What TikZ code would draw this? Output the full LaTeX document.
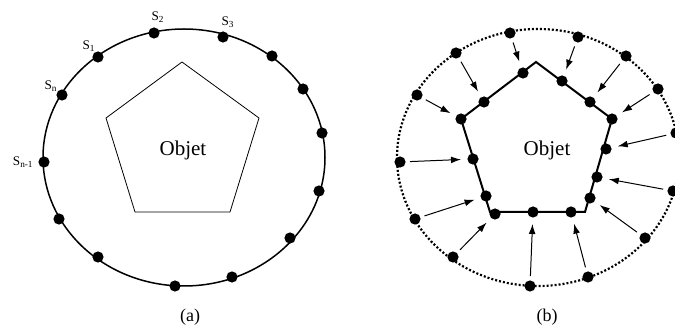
\documentclass[tikz,border=0pt]{standalone}
\usepackage{fontspec}
\setmainfont{Liberation Serif}
\usetikzlibrary{arrows.meta}

\begin{document}
\begin{tikzpicture}[
	x=0.5pt, y=-0.5pt,
	every node/.style={font=\fontsize{10.5}{12}\selectfont},
	sensor/.style={
		circle, fill=black, inner sep=0pt, minimum size=5.6pt
	},
	s_label/.style={font=\fontsize{6.6}{7}\selectfont, inner sep=0pt},
	caption/.style={font=\fontsize{9}{10}\selectfont},
	contour/.style={line width=0.75pt},
	dotted_contour/.style={line width=1.1pt, dash pattern=on 1pt off 1pt},
	push_arrow/.style={
		-{Latex[length=5pt,width=3.4pt]}, line width=0.5pt,
		shorten <=2pt, shorten >=3pt
	}
	]
	\useasboundingbox (0,0) rectangle (675,331);
	
	% --- 1. FIGURE (a) ---
	\draw[contour] (184,157.5) ellipse [x radius=70.5pt, y radius=64.25pt];
	\draw[line width=0.4pt] (182,62) -- (259,118) -- (230,212) -- (135,212) -- (106,118) -- cycle;
	\node (O_Left) at (183,150) {Objet};
	
	\node[sensor] (S1) at (98,57) {};
	\node[sensor] (S2) at (154,33) {};
	\node[sensor] (S3) at (223,37) {};
	\node[sensor] (S4) at (272,56) {};
	\node[sensor] (S5) at (303,89) {};
	\node[sensor] (S6) at (322,133) {};
	\node[sensor] (S7) at (319,191) {};
	\node[sensor] (S8) at (290,238) {};
	\node[sensor] (S9) at (232,277) {};
	\node[sensor] (S10) at (175,286) {};
	\node[sensor] (S11) at (98,257) {};
	\node[sensor] (S12) at (59,219) {};
	\node[sensor] (S13) at (44,162) {};
	\node[sensor] (S14) at (62,95) {};
	
	% Nhãn
	\node[s_label] (L1) at (89,46) {S\textsubscript{1}};
	\node[s_label] (L2) at (158,17) {S\textsubscript{2}};
	\node[s_label] (L3) at (228,22) {S\textsubscript{3}};
	\node[s_label] (Ln) at (51,86) {S\textsubscript{n}};
	\node[s_label, anchor=east] (Lm) at (34,162) {S\textsubscript{n-1}};
	
	\node[caption] (Cap_A) at (190,317) {(a)};
	
	% --- 2. FIGURE (b) ---
	\draw[dotted_contour] (538,157.5) ellipse [x radius=70.5pt, y radius=64.25pt];
	\draw[line width=1pt] (536,62) -- (612,119) -- (585,212) -- (490,212) -- (461,119) -- cycle;
	\node (O_Right) at (547,150) {Objet};
	
	% Điểm trên đường ngoài
	\node[sensor] (E1) at (456,53) {};
	\node[sensor] (E2) at (510,33) {};
	\node[sensor] (E3) at (578,37) {};
	\node[sensor] (E4) at (626,56) {};
	\node[sensor] (E5) at (658,89) {};
	\node[sensor] (E6) at (676,133) {};
	\node[sensor] (E7) at (673,191) {};
	\node[sensor] (E8) at (645,238) {};
	\node[sensor] (E9) at (588,277) {};
	\node[sensor] (E10) at (530,286) {};
	\node[sensor] (E11) at (453,257) {};
	\node[sensor] (E12) at (415,219) {};
	\node[sensor] (E13) at (400,162) {};
	\node[sensor] (E14) at (417,95) {};
	
	% Điểm trên đa giác
	\node[sensor] (P1) at (484,102) {};
	\node[sensor] (P2) at (523,73) {};
	\node[sensor] (P3) at (562,81) {};
	\node[sensor] (P4) at (590,102) {};
	\node[sensor] (P5) at (612,119) {};
	\node[sensor] (P6) at (606,149) {};
	\node[sensor] (P7) at (597,177) {};
	\node[sensor] (P8) at (590,198) {};
	\node[sensor] (P9) at (571,212) {};
	\node[sensor] (P10) at (533,212) {};
	\node[sensor] (P11) at (495,214) {};
	\node[sensor] (P12) at (486,196) {};
	\node[sensor] (P13) at (473,159) {};
	\node[sensor] (P14) at (461,119) {};
	
	% --- 3. MŨI TÊN ---
	\draw[push_arrow] (E1) -- (P1);
	\draw[push_arrow] (E2) -- (P2);
	\draw[push_arrow] (E3) -- (P3);
	\draw[push_arrow] (E4) -- (P4);
	\draw[push_arrow] (E5) -- (P5);
	\draw[push_arrow] (E6) -- (P6);
	\draw[push_arrow] (E7) -- (P7);
	\draw[push_arrow] (E8) -- (P8);
	\draw[push_arrow] (E9) -- (P9);
	\draw[push_arrow] (E10) -- (P10);
	\draw[push_arrow] (E11) -- (P11);
	\draw[push_arrow] (E12) -- (P12);
	\draw[push_arrow] (E13) -- (P13);
	\draw[push_arrow] (E14) -- (P14);
	
	\node[caption] (Cap_B) at (547,317) {(b)};
	
\end{tikzpicture}
\end{document}
